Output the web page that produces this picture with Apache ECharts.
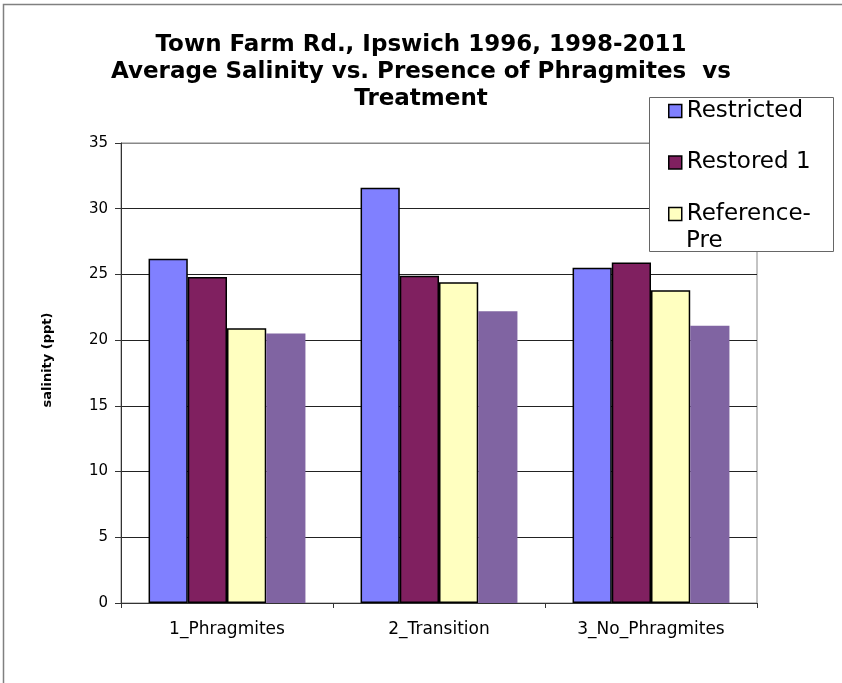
<!DOCTYPE html>
<html>
<head>
<meta charset="utf-8">
<script src="https://cdn.jsdelivr.net/npm/echarts@6/dist/echarts.min.js"></script>
<style>
html,body{margin:0;padding:0;background:#fff;}
#chart{width:842px;height:683px;}
</style>
</head>
<body>
<div id="chart"></div>
<script>
const titleLines = ['Town Farm Rd., Ipswich 1996, 1998-2011', 'Average Salinity vs. Presence of Phragmites  vs', 'Treatment'];
const categories = ['1_Phragmites', '2_Transition', '3_No_Phragmites'];
const seriesNames = ['Restricted', 'Restored 1', 'Reference-Pre', 'Series 4'];
const restricted = [26.2, 31.6, 25.5];
const restored1 = [24.8, 24.9, 25.9];
const referencePre = [20.9, 24.4, 23.8];
const series4 = [20.5, 22.2, 21.1];
const yTicks = [0, 5, 10, 15, 20, 25, 30, 35];
const yAxisTitle = 'salinity (ppt)';

const colors = ['#8080FF', '#802060', '#FFFFC0', '#8064A2'];
const values = [restricted, restored1, referencePre, series4];
const font = 'DejaVu Sans, Verdana, sans-serif';

const chart = echarts.init(document.getElementById('chart'), null, {renderer: 'canvas'});

const series = values.map((v, i) => ({
  name: seriesNames[i],
  type: 'bar',
  data: v,
  barGap: '0%',
  barCategoryGap: '26%',
  itemStyle: {
    color: colors[i],
    borderColor: i === 3 ? colors[i] : '#000',
    borderWidth: i === 3 ? 0 : 1.5
  },
  emphasis: {disabled: true}
}));

chart.setOption({
  animation: false,
  backgroundColor: '#fff',
  title: {
    text: titleLines.join('\n'),
    left: 'center',
    top: 27,
    textStyle: {
      fontFamily: font,
      fontWeight: 'bold',
      fontSize: 23,
      lineHeight: 27,
      color: '#000'
    }
  },
  grid: {
    left: 121, right: 85, top: 143, bottom: 80,
    show: true, borderColor: '#888', borderWidth: 1, backgroundColor: 'transparent'
  },
  legend: {
    data: seriesNames.slice(0, 3),
    orient: 'vertical',
    left: 668,
    top: 97,
    padding: 0,
    itemGap: 23.5,
    itemWidth: 13,
    itemHeight: 13,
    icon: 'rect',
    z: 10,
    formatter: function (name) { return name === 'Reference-Pre' ? 'Reference-' : name; },
    textStyle: {fontFamily: font, fontSize: 23, lineHeight: 28, color: '#000'},
    itemStyle: {borderColor: '#000', borderWidth: 1.5},
    selectedMode: false
  },
  xAxis: {
    type: 'category',
    data: categories,
    axisLine: {lineStyle: {color: '#333', width: 1}},
    axisTick: {show: true, length: 5, lineStyle: {color: '#333'}},
    axisLabel: {fontFamily: font, fontSize: 17, color: '#000', margin: 18}
  },
  yAxis: {
    type: 'value',
    min: yTicks[0],
    max: yTicks[yTicks.length - 1],
    interval: yTicks[1] - yTicks[0],
    axisLine: {show: true, lineStyle: {color: '#333', width: 1}},
    axisTick: {show: true, length: 6, lineStyle: {color: '#333'}},
    axisLabel: {fontFamily: font, fontSize: 15, color: '#000', margin: 13},
    splitLine: {show: true, lineStyle: {color: ['#222', '#222', '#222', '#222', '#222', '#222', '#222', '#888'], width: 1}}
  },
  graphic: [
    {
      type: 'rect', z: 0, silent: true,
      shape: {x: 3.5, y: 4.5, width: 900, height: 900},
      style: {fill: 'none', stroke: '#808080', lineWidth: 1.5}
    },
    {
      type: 'rect', z: 5, silent: true,
      shape: {x: 649.5, y: 97.5, width: 184, height: 154},
      style: {fill: '#fff', stroke: '#666', lineWidth: 1}
    },
    {
      type: 'text', z: 11, silent: true,
      x: 686, y: 241,
      style: {text: 'Pre', fontFamily: font, fontSize: 23, fill: '#000', textVerticalAlign: 'middle', textAlign: 'left'}
    },
    {
      type: 'text', z: 11, silent: true,
      x: 48, y: 360, rotation: Math.PI / 2,
      style: {text: yAxisTitle, fontFamily: font, fontSize: 13, fontWeight: 'bold', fill: '#000', textVerticalAlign: 'middle', textAlign: 'center'}
    }
  ],
  series: series
});
</script>
</body>
</html>
